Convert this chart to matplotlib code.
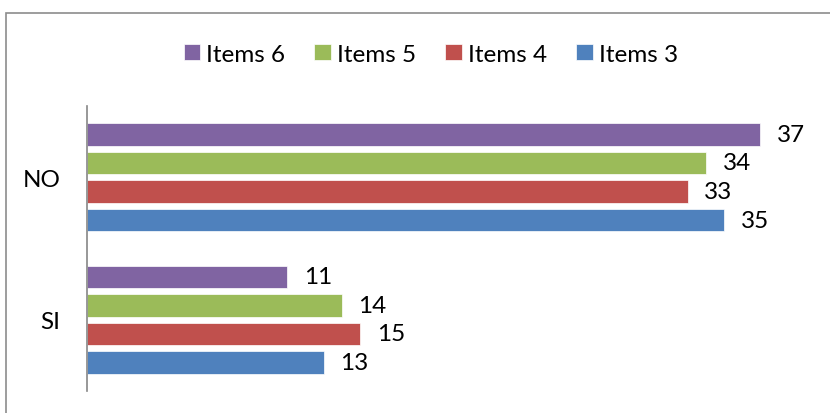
import matplotlib
matplotlib.use("Agg")
import matplotlib.pyplot as plt
import matplotlib.patches as mpatches
import numpy as np

# ── Data ────────────────────────────────────────────────────────────────────
categories = ["SI", "NO"]                      # bottom → top
series_names = ["Items 3", "Items 4", "Items 5", "Items 6"]
items_3 = [13, 35]
items_4 = [15, 33]
items_5 = [14, 34]
items_6 = [11, 37]
series_values = [items_3, items_4, items_5, items_6]

colors = ["#4F81BD", "#C0504D", "#9BBB59", "#8064A2"]

plt.rcParams["font.family"] = ["Lato", "DejaVu Sans"]
FS = 17.5

fig = plt.figure(figsize=(8.3, 4.14), dpi=100)
ax = fig.add_axes([87 / 830, 1 - 392 / 414, (815 - 87) / 830, 285 / 414])

y = np.arange(len(categories))
pitch, height = 0.2, 0.16
handles = []
for i, (name, vals, c) in enumerate(zip(series_names, series_values, colors)):
    off = (i - 1.5) * pitch
    bars = ax.barh(y + off, vals, height=height, color=c,
                   edgecolor="white", linewidth=0.5, label=name)
    ax.bar_label(bars, padding=12, fontsize=FS, color="black")
    handles.append(bars)

ax.set_xlim(0, 40)
ax.set_ylim(-0.5, 1.5)
ax.set_yticks(y)
ax.set_yticklabels(categories, fontsize=FS)
ax.tick_params(axis="y", length=0, pad=19)
ax.set_xticks([])
for s in ("top", "right", "bottom"):
    ax.spines[s].set_visible(False)
ax.spines["left"].set_color("#868686")
ax.spines["left"].set_linewidth(1.2)

# legend: reversed order, like the source
fig.legend(handles[::-1], series_names[::-1], loc="center",
           bbox_to_anchor=(0.519, 1 - 55 / 414), ncol=4, frameon=False,
           fontsize=FS, handlelength=0.68, handleheight=0.68,
           handletextpad=0.25, columnspacing=1.2)

# chart-area border (only left/top visible in crop)
border = mpatches.Rectangle((5.5 / 830, -0.05), 1.2, 1 - 13.5 / 414 + 0.05,
                            transform=fig.transFigure, fill=False,
                            edgecolor="#8C8C8C", linewidth=1.2, clip_on=False)
fig.patches.append(border)

fig.savefig("out.png", dpi=100, facecolor="white")
